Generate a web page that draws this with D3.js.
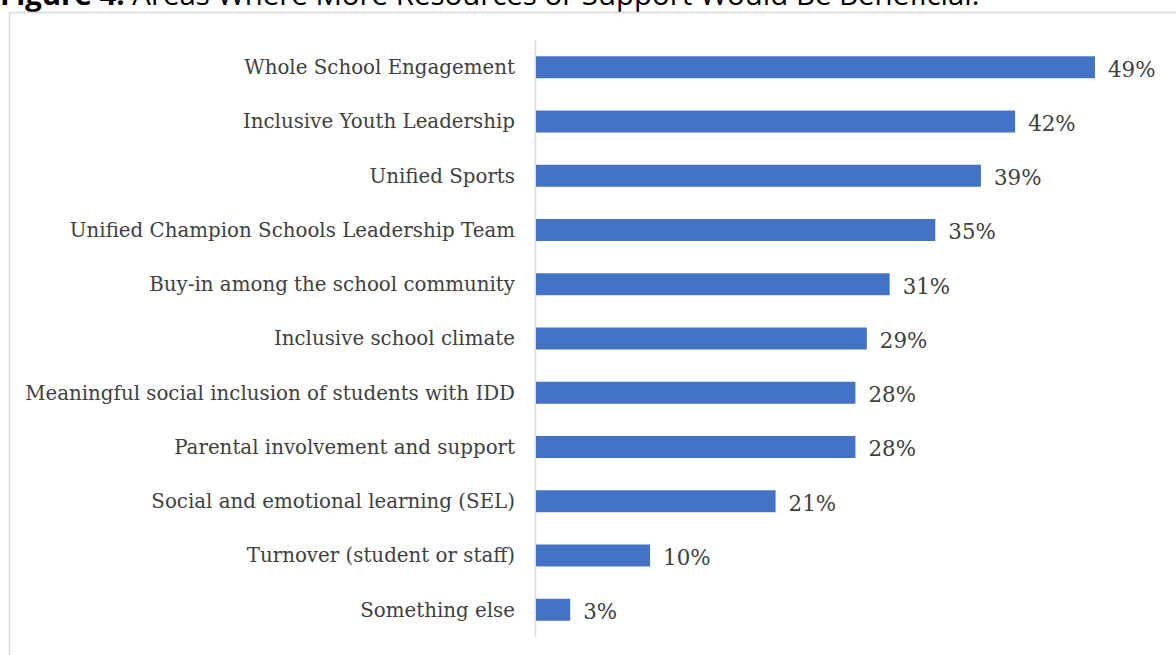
<!DOCTYPE html>
<html>
<head>
<meta charset="utf-8">
<script src="https://cdn.jsdelivr.net/npm/d3@7"></script>
<style>
  html, body { margin: 0; padding: 0; background: #fff; }
  svg { display: block; }
</style>
</head>
<body>
<svg id="chart" width="1176" height="655"></svg>
<script>
// Areas where more resources or support would be beneficial (% of respondents)
const categories = [
  "Whole School Engagement",
  "Inclusive Youth Leadership",
  "Unified Sports",
  "Unified Champion Schools Leadership Team",
  "Buy-in among the school community",
  "Inclusive school climate",
  "Meaningful social inclusion of students with IDD",
  "Parental involvement and support",
  "Social and emotional learning (SEL)",
  "Turnover (student or staff)",
  "Something else"
];
const values = [49, 42, 39, 35, 31, 29, 28, 28, 21, 10, 3];
const valueLabels = ["49%", "42%", "39%", "35%", "31%", "29%", "28%", "28%", "21%", "10%", "3%"];

const svg = d3.select("#chart");

// Figure caption, running off the top edge of the page
const title = svg.append("text")
  .attr("x", 0).attr("y", 5)
  .attr("font-family", "'Open Sans', sans-serif")
  .attr("font-size", 26)
  .attr("fill", "#000");
title.append("tspan").attr("font-weight", "bold").text("Figure 4: ");
title.append("tspan").text("Areas Where More Resources or Support Would Be Beneficial.");
const tw = title.node().getComputedTextLength();
title.attr("font-size", 26 * 980 / tw);

// Chart frame
svg.append("rect")
  .attr("x", 9.5).attr("y", 12.5)
  .attr("width", 1200).attr("height", 700)
  .attr("fill", "#fff")
  .attr("stroke", "#d9d9d9")
  .attr("stroke-width", 1.5);

const plot = { left: 536, top: 40, bottom: 637 };

const x = d3.scaleLinear().domain([0, 49]).range([plot.left, 1095]);
const y = d3.scaleBand().domain(categories).range([plot.top, plot.bottom]).paddingInner(0.595).paddingOuter(0.3);

// Category axis line
svg.append("line")
  .attr("x1", plot.left - 0.5).attr("x2", plot.left - 0.5)
  .attr("y1", plot.top).attr("y2", plot.bottom)
  .attr("stroke", "#d9d9d9").attr("stroke-width", 1.5);

const serif = "'DejaVu Serif', 'Liberation Serif', serif";

// Category labels
const labels = svg.append("g").selectAll("text")
  .data(categories)
  .join("text")
  .attr("x", 515)
  .attr("y", d => y(d) + y.bandwidth() / 2)
  .attr("dy", "0.35em")
  .attr("text-anchor", "end")
  .attr("font-family", serif)
  .attr("font-size", 18)
  .attr("fill", "#404040")
  .text(d => d);

// Size labels so the longest one spans the left panel
const longest = labels.filter((d, i) => i === 6).node();
const fs = 18 * 490 / longest.getComputedTextLength();
labels.attr("font-size", fs);

// Bars
svg.append("g").selectAll("rect")
  .data(values)
  .join("rect")
  .attr("x", plot.left)
  .attr("y", (d, i) => y(categories[i]))
  .attr("width", d => x(d) - plot.left)
  .attr("height", y.bandwidth())
  .attr("fill", "#4472c4");

// Value labels
svg.append("g").selectAll("text")
  .data(values)
  .join("text")
  .attr("x", d => x(d) + 13)
  .attr("y", (d, i) => y(categories[i]) + y.bandwidth() / 2 + 2)
  .attr("dy", "0.35em")
  .attr("font-family", serif)
  .attr("font-size", fs * 1.08)
  .attr("fill", "#404040")
  .text((d, i) => valueLabels[i]);
</script>
</body>
</html>
